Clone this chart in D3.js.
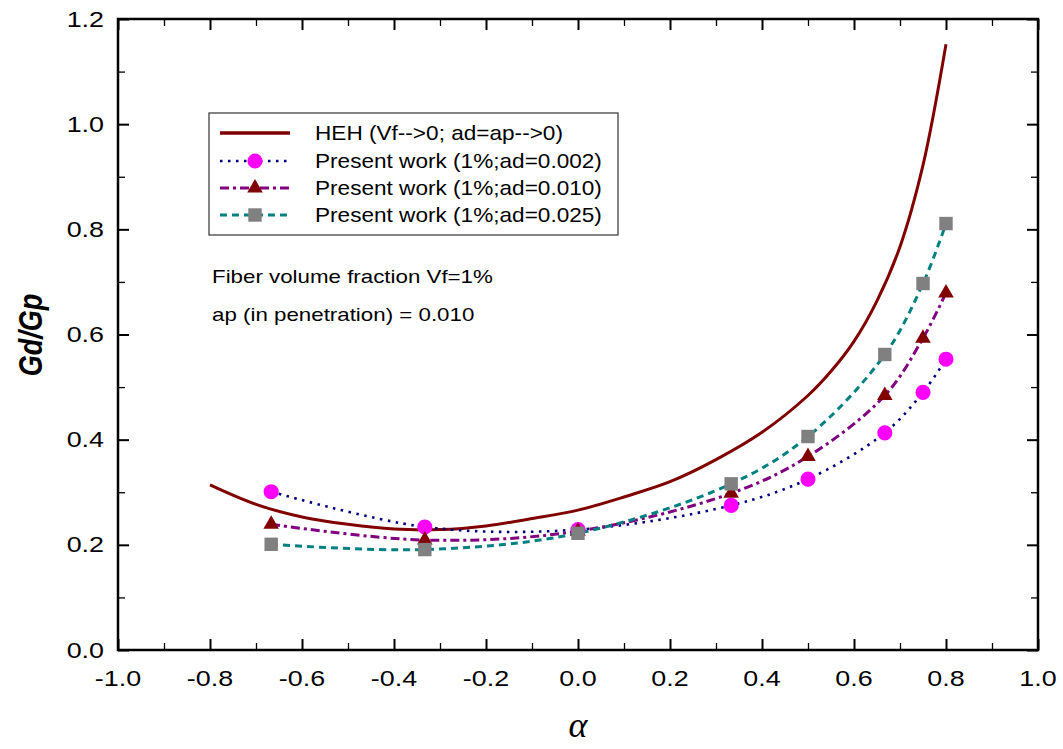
<!DOCTYPE html>
<html>
<head>
<meta charset="utf-8">
<script src="https://cdn.jsdelivr.net/npm/d3@7"></script>
<style>
  html, body { margin: 0; padding: 0; background: #fff; }
  svg { display: block; font-family: "Liberation Sans", Arial, sans-serif; }
</style>
</head>
<body>
<svg id="chart" width="1063" height="749"></svg>
<script>
// Stress ratio Gd/Gp versus alpha
const hehAlpha = [-0.8, -0.7, -0.6, -0.5, -0.4, -0.3, -0.2, -0.1, 0.0, 0.1, 0.2, 0.3, 0.4, 0.5, 0.55, 0.6, 0.65, 0.7, 0.75, 0.8];
const hehValues = [0.314, 0.277, 0.253, 0.239, 0.230, 0.229, 0.236, 0.250, 0.266, 0.291, 0.320, 0.362, 0.414, 0.484, 0.530, 0.587, 0.664, 0.767, 0.922, 1.152];

const workAlpha = [-0.667, -0.333, 0.0, 0.333, 0.5, 0.667, 0.75, 0.8];
const ad002 = [0.301, 0.234, 0.229, 0.275, 0.325, 0.413, 0.490, 0.553];
const ad010 = [0.239, 0.209, 0.226, 0.298, 0.368, 0.484, 0.593, 0.679];
const ad025 = [0.201, 0.191, 0.222, 0.316, 0.406, 0.562, 0.697, 0.811];

const xTicks = [-1.0, -0.8, -0.6, -0.4, -0.2, 0.0, 0.2, 0.4, 0.6, 0.8, 1.0];
const yTicks = [0.0, 0.2, 0.4, 0.6, 0.8, 1.0, 1.2];
const xMinor = [-0.9, -0.7, -0.5, -0.3, -0.1, 0.1, 0.3, 0.5, 0.7, 0.9];
const yMinor = [0.1, 0.3, 0.5, 0.7, 0.9, 1.1];

const legendLabels = [
  "HEH (Vf-->0; ad=ap-->0)",
  "Present work (1%;ad=0.002)",
  "Present work (1%;ad=0.010)",
  "Present work (1%;ad=0.025)"
];
const notes = ["Fiber volume fraction Vf=1%", "ap (in penetration) = 0.010"];

const svg = d3.select("#chart");
const plotL = 118, plotR = 1038, plotT = 19, plotB = 650;
const x = d3.scaleLinear().domain([-1, 1]).range([plotL, plotR]);
const y = d3.scaleLinear().domain([0, 1.2]).range([plotB, plotT]);

const plot = svg.append("g");

// axes with inward ticks on all four sides
function tickAxis(axisFn, scale, values, size, tr, w) {
  const g = svg.append("g").attr("transform", tr)
    .call(axisFn(scale).tickValues(values).tickSizeInner(-size).tickSizeOuter(0).tickFormat(""));
  g.select(".domain").remove();
  g.selectAll("line").attr("stroke", "#000").attr("stroke-width", w);
  return g;
}
tickAxis(d3.axisBottom, x, xTicks, 11, `translate(0,${plotB})`, 2);
tickAxis(d3.axisBottom, x, xMinor, 7, `translate(0,${plotB})`, 1.3);
tickAxis(d3.axisTop, x, xTicks, 11, `translate(0,${plotT})`, 2);
tickAxis(d3.axisTop, x, xMinor, 7, `translate(0,${plotT})`, 1.3);
tickAxis(d3.axisLeft, y, yTicks, 11, `translate(${plotL},0)`, 2);
tickAxis(d3.axisLeft, y, yMinor, 7, `translate(${plotL},0)`, 1.3);
tickAxis(d3.axisRight, y, yTicks, 11, `translate(${plotR},0)`, 2);
tickAxis(d3.axisRight, y, yMinor, 7, `translate(${plotR},0)`, 1.3);

svg.append("rect").attr("x", plotL).attr("y", plotT)
  .attr("width", plotR - plotL).attr("height", plotB - plotT)
  .attr("fill", "none").attr("stroke", "#000").attr("stroke-width", 2.5);

// tick labels (plain hyphen for negatives)
const fmt = d => d.toFixed(1);
svg.append("g").selectAll("g").data(xTicks).join("g")
  .attr("transform", d => `translate(${x(d)},686) scale(1.25,1)`)
  .append("text").attr("text-anchor", "middle").attr("font-size", 21.5).text(fmt);
svg.append("g").selectAll("g").data(yTicks).join("g")
  .attr("transform", d => `translate(104,${y(d) + 7.5}) scale(1.25,1)`)
  .append("text").attr("text-anchor", "end").attr("font-size", 21.5).text(fmt);

// axis titles
svg.append("text")
  .attr("transform", "translate(42,335) rotate(-90) scale(1,1.25)")
  .attr("text-anchor", "middle").attr("font-size", 27)
  .attr("font-weight", "bold").attr("font-style", "italic").text("Gd/Gp");
svg.append("text").attr("x", 578).attr("y", 737)
  .attr("text-anchor", "middle").attr("font-size", 36)
  .attr("font-family", "'Liberation Serif', 'Times New Roman', serif")
  .attr("font-style", "italic").text("α");

// series
const smooth = d3.line().x(d => x(d[0])).y(d => y(d[1])).curve(d3.curveCatmullRom.alpha(0.5));
const zip = (a, b) => a.map((v, i) => [v, b[i]]);

plot.append("path").datum(zip(hehAlpha, hehValues)).attr("d", smooth)
  .attr("fill", "none").attr("stroke", "#800000").attr("stroke-width", 3);

const series = [
  { vals: ad002, stroke: "#000080", dash: "2.5,5.5", width: 2.6, sym: d3.symbolCircle, size: 180, fill: "#ff00ff" },
  { vals: ad010, stroke: "#800080", dash: "9,4,3,4", width: 3, sym: d3.symbolTriangle, size: 105, fill: "#800000" },
  { vals: ad025, stroke: "#008080", dash: "7,5", width: 3, sym: d3.symbolSquare, size: 180, fill: "#808080" }
];

series.forEach(s => {
  plot.append("path").datum(zip(workAlpha, s.vals)).attr("d", smooth)
    .attr("fill", "none").attr("stroke", s.stroke).attr("stroke-width", s.width)
    .attr("stroke-dasharray", s.dash);
});
series.forEach(s => {
  plot.append("g").selectAll("path").data(zip(workAlpha, s.vals)).join("path")
    .attr("transform", d => `translate(${x(d[0])},${y(d[1])})`)
    .attr("d", d3.symbol().type(s.sym).size(s.size)).attr("fill", s.fill);
});

// legend
const lg = svg.append("g");
lg.append("rect").attr("x", 209).attr("y", 113).attr("width", 409).attr("height", 122)
  .attr("fill", "#fff").attr("stroke", "#333").attr("stroke-width", 1.2);
const rowY = [133, 161, 188, 215];
lg.append("line").attr("x1", 220).attr("x2", 290).attr("y1", rowY[0]).attr("y2", rowY[0])
  .attr("stroke", "#800000").attr("stroke-width", 3.5);
series.forEach((s, i) => {
  const yy = rowY[i + 1];
  lg.append("line").attr("x1", 220).attr("x2", 290).attr("y1", yy).attr("y2", yy)
    .attr("stroke", s.stroke).attr("stroke-width", s.width).attr("stroke-dasharray", s.dash);
  lg.append("path").attr("transform", `translate(255,${yy})`)
    .attr("d", d3.symbol().type(s.sym).size(s.size)).attr("fill", s.fill);
});
legendLabels.forEach((t, i) => {
  lg.append("g").attr("transform", `translate(315,${rowY[i] + 7}) scale(1.13,1)`)
    .append("text").attr("font-size", 20).text(t);
});

// notes
notes.forEach((t, i) => {
  svg.append("g").attr("transform", `translate(212,${[283, 321][i]}) scale(1.24,1)`)
    .append("text").attr("font-size", 18).text(t);
});
</script>
</body>
</html>
